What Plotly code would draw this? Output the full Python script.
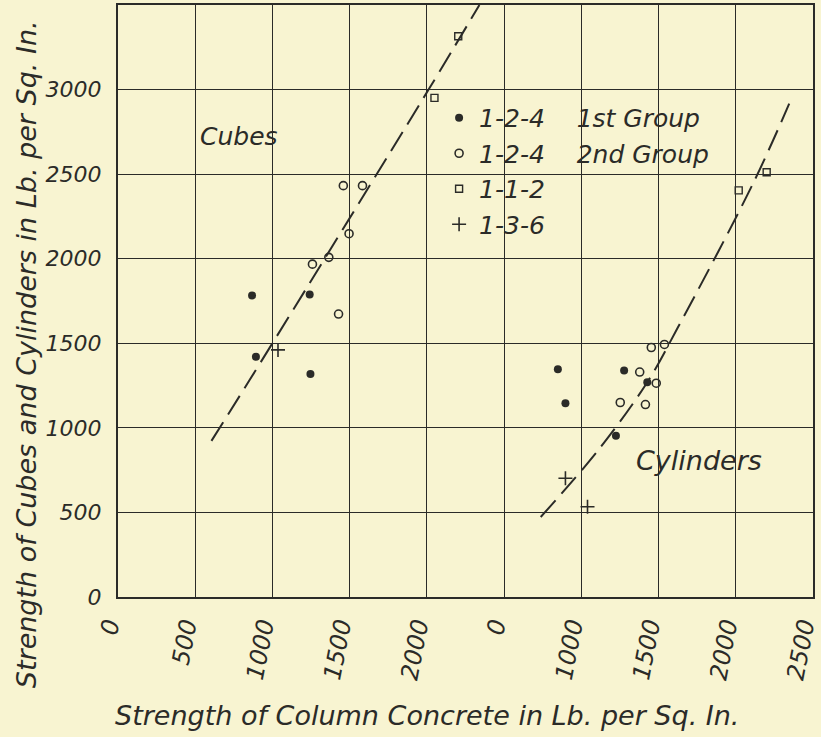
import plotly.graph_objects as go

# ---------------- data ----------------
# Column-concrete strength (x) vs strength of cubes / cylinders (y), lb per sq in
cube_g1_x = [868, 893, 1241, 1246]
cube_g1_y = [1783, 1420, 1789, 1319]
cube_g2_x = [1459, 1583, 1496, 1365, 1259, 1428]
cube_g2_y = [2432, 2432, 2148, 2008, 1968, 1673]
cube_g3_x = [2049, 2203]
cube_g3_y = [2951, 3315]
cube_g4_x = [1036]
cube_g4_y = [1461]

cyl_g1_x = [848, 897, 1277, 1427, 1224]
cyl_g1_y = [1347, 1146, 1339, 1270, 954]
cyl_g2_x = [1453, 1538, 1378, 1485, 1252, 1415]
cyl_g2_y = [1475, 1493, 1330, 1264, 1150, 1138]
cyl_g3_x = [2019, 2200]
cyl_g3_y = [2404, 2511]
cyl_g4_x = [897, 1040]
cyl_g4_y = [702, 534]

cube_curve_x = [605, 853, 1500, 2011, 2340]
cube_curve_y = [923, 1284, 2240, 3000, 3500]
cyl_curve_x = [737, 1111, 1427, 1623, 2115, 2346]
cyl_curve_y = [473, 870, 1270, 1590, 2451, 2917]

group_names = ["1-2-4\u00a0\u00a0\u00a0\u00a01st Group",
               "1-2-4\u00a0\u00a0\u00a0\u00a02nd Group",
               "1-1-2",
               "1-3-6"]

x_tickvals = [0, 500, 1000, 1500, 2000, 2500, 3000, 3500, 4000, 4500]
x_ticktext = ["0", "500", "1000", "1500", "2000", "0", "1000", "1500", "2000", "2500"]
y_tickvals = [0, 500, 1000, 1500, 2000, 2500, 3000]
y_ticktext = ["0", "500", "1000", "1500", "2000", "2500", "3000"]

# the right half of the sheet (cylinders) is drawn on a shifted scale
CYL_OFFSET = 2000

# ---------------- styling ----------------
INK = "#2b2b28"
PAPER = "#f8f4d1"
FONT = dict(family="DejaVu Sans", style="italic", color=INK)


def shift(xs):
    return [v + CYL_OFFSET for v in xs]


fig = go.Figure()

# dashed curves
fig.add_trace(go.Scatter(x=cube_curve_x, y=cube_curve_y, mode="lines",
                         line=dict(color=INK, width=2, dash="22px,9px", shape="spline"),
                         showlegend=False, hoverinfo="skip"))
fig.add_trace(go.Scatter(x=shift(cyl_curve_x), y=cyl_curve_y, mode="lines",
                         line=dict(color=INK, width=2, dash="22px,9px", shape="spline"),
                         showlegend=False, hoverinfo="skip"))

marker_styles = [
    dict(symbol="circle", size=8, color=INK, line=dict(width=0)),
    dict(symbol="circle-open", size=8, color=INK, line=dict(width=1.6)),
    dict(symbol="square-open", size=7, color=INK, line=dict(width=1.4)),
    dict(symbol="cross-thin-open", size=10, color=INK, line=dict(width=1.6, color=INK)),
]
groups = [
    (cube_g1_x, cube_g1_y, cyl_g1_x, cyl_g1_y),
    (cube_g2_x, cube_g2_y, cyl_g2_x, cyl_g2_y),
    (cube_g3_x, cube_g3_y, cyl_g3_x, cyl_g3_y),
    (cube_g4_x, cube_g4_y, cyl_g4_x, cyl_g4_y),
]
for i, (cx, cy, lx, ly) in enumerate(groups):
    fig.add_trace(go.Scatter(
        x=list(cx) + shift(lx), y=list(cy) + list(ly), mode="markers",
        marker=marker_styles[i], name=group_names[i], legendgroup=f"g{i}"))

fig.add_annotation(x=782, y=2722, xref="x", yref="y", text="Cubes", showarrow=False,
                   font=dict(FONT, size=25))
fig.add_annotation(x=3763, y=805, xref="x", yref="y", text="Cylinders", showarrow=False,
                   font=dict(FONT, size=27))

fig.add_annotation(x=0.444, y=-0.2, xref="paper", yref="paper",
                   xanchor="center", yanchor="middle",
                   text="Strength of Column Concrete in Lb. per Sq. In.",
                   showarrow=False, font=dict(FONT, size=27))
fig.add_annotation(x=-0.1325, y=0.41, xref="paper", yref="paper", textangle=-90,
                   xanchor="center", yanchor="middle",
                   text="Strength of Cubes and Cylinders in Lb. per Sq. In.",
                   showarrow=False, font=dict(FONT, size=27))

fig.update_xaxes(range=[0, 4500], tickvals=x_tickvals, ticktext=x_ticktext,
                 tickangle=-79, tickfont=dict(FONT, size=24),
                 ticklabeloverflow="allow", automargin=False,
                 ticklabelshift=-10,
                 showgrid=True, gridcolor=INK, gridwidth=1.3,
                 showline=True, linecolor=INK, linewidth=2.2, mirror=True,
                 zeroline=False, ticks="", ticklabelstandoff=3)
fig.update_yaxes(range=[0, 3500], tickvals=y_tickvals, ticktext=y_ticktext,
                 tickfont=dict(FONT, size=22), automargin=False,
                 showgrid=True, gridcolor=INK, gridwidth=1.3,
                 showline=True, linecolor=INK, linewidth=2.2, mirror=True,
                 zeroline=False, ticks="", ticklabelstandoff=10)

fig.update_layout(
    width=821, height=737,
    margin=dict(l=118, r=8, t=5, b=140, autoexpand=False),
    paper_bgcolor=PAPER, plot_bgcolor=PAPER,
    font=FONT,
    showlegend=True,
    legend=dict(x=0.462, y=0.848, xanchor="left", yanchor="top",
                bgcolor="rgba(0,0,0,0)", font=dict(FONT, size=25),
                tracegroupgap=0, itemwidth=30),
)

fig.write_html("out.html")
